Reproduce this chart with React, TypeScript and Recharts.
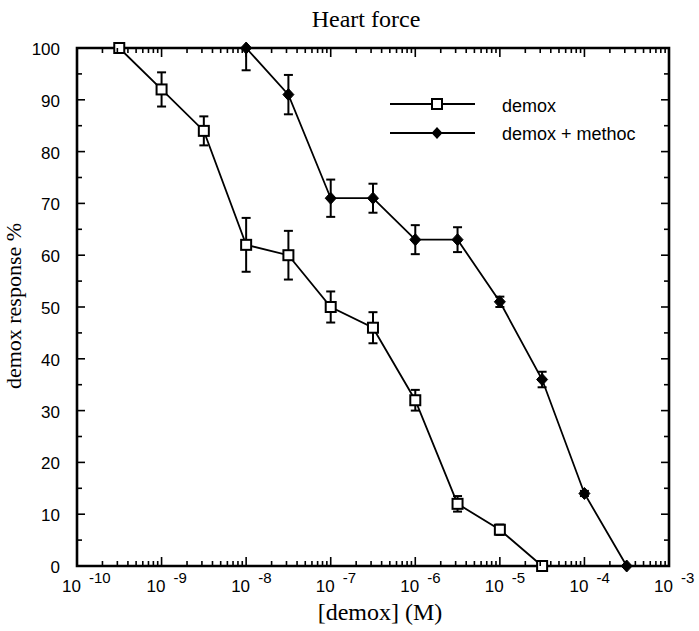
import { LineChart, Line, XAxis, YAxis, ErrorBar, Legend, ReferenceArea } from "recharts";

const SERIF = "'Liberation Serif', 'Times New Roman', serif";
const SANS = "'Liberation Sans', Arial, Helvetica, sans-serif";

// concentrations (M), half-decade steps
const DEMOX_CONC = [3.16e-10, 1e-9, 3.16e-9, 1e-8, 3.16e-8, 1e-7, 3.16e-7, 1e-6, 3.16e-6, 1e-5, 3.16e-5];
const DEMOX_RESP = [100, 92, 84, 62, 60, 50, 46, 32, 12, 7, 0];
const DEMOX_ERR = [0, 3.3, 2.8, 5.2, 4.7, 3, 3, 2, 1.5, 1, 0];

const METHOC_CONC = [1e-8, 3.16e-8, 1e-7, 3.16e-7, 1e-6, 3.16e-6, 1e-5, 3.16e-5, 1e-4, 3.16e-4];
const METHOC_RESP = [100, 91, 71, 71, 63, 63, 51, 36, 14, 0];
const METHOC_ERR_DOWN = [4.3, 3.8, 3.6, 2.8, 2.8, 2.4, 1, 1.5, 0.5, 0];
const METHOC_ERR_UP = [0, 3.8, 3.6, 2.8, 2.8, 2.4, 1, 1.5, 0.5, 0];

const DECADES = [1e-10, 1e-9, 1e-8, 1e-7, 1e-6, 1e-5, 1e-4, 1e-3];
const MINOR_STEPS = [2, 3, 4, 5, 6, 7, 8, 9];
const Y_TICKS = [0, 5, 10, 15, 20, 25, 30, 35, 40, 45, 50, 55, 60, 65, 70, 75, 80, 85, 90, 95, 100];

const X_TICKS = [
	...DECADES,
	...DECADES.slice(0, -1).flatMap(d => MINOR_STEPS.map(k => k * d)),
].sort((a, b) => a - b);

const demoxData = DEMOX_CONC.map((c, i) => ({
	conc: c,
	resp: DEMOX_RESP[i],
	err: DEMOX_ERR[i],
}));

const methocData = METHOC_CONC.map((c, i) => ({
	conc: c,
	resp: METHOC_RESP[i],
	err: [METHOC_ERR_DOWN[i], METHOC_ERR_UP[i]],
}));

const isMajor = (v: number) => DECADES.some(d => Math.abs(v - d) < d * 1e-6);

const BottomTick = (props: any) => {
	const { x, y, payload } = props;
	const v = payload.value;
	const major = isMajor(v);
	return (
		<g>
			<line x1={x} y1={y} x2={x} y2={y - (major ? 9 : 5)} stroke='#000' strokeWidth={1.6} />
			{major && (
				<text fontFamily={SANS} fill='#000'>
					<tspan x={x - 15} y={y + 26} fontSize={17}>
						10
					</tspan>
					<tspan x={x + 12} y={y + 17} fontSize={15}>
						{Math.round(Math.log10(v))}
					</tspan>
				</text>
			)}
		</g>
	);
};

const TopTick = (props: any) => {
	const { x, y, payload } = props;
	const major = isMajor(payload.value);
	return <line x1={x} y1={y} x2={x} y2={y + (major ? 9 : 5)} stroke='#000' strokeWidth={1.6} />;
};

const LeftTick = (props: any) => {
	const { x, y, payload } = props;
	const major = payload.value % 10 === 0;
	return (
		<g>
			<line x1={x} y1={y} x2={x + (major ? 8 : 5)} y2={y} stroke='#000' strokeWidth={1.6} />
			{major && (
				<text x={x - 17} y={y + 7} textAnchor='end' fontFamily={SANS} fontSize={17} fill='#000'>
					{payload.value}
				</text>
			)}
		</g>
	);
};

const RightTick = (props: any) => {
	const { x, y, payload } = props;
	const major = payload.value % 10 === 0;
	return <line x1={x} y1={y} x2={x - (major ? 8 : 5)} y2={y} stroke='#000' strokeWidth={1.6} />;
};

const SquareDot = (props: any) => {
	const { cx, cy, index } = props;
	return <rect key={`sq-${index}`} x={cx - 5} y={cy - 5} width={10} height={10} fill='#fff' stroke='#000' strokeWidth={2} />;
};

const DiamondDot = (props: any) => {
	const { cx, cy, index } = props;
	return (
		<polygon
			key={`di-${index}`}
			points={`${cx},${cy - 6} ${cx + 5.5},${cy} ${cx},${cy + 6} ${cx - 5.5},${cy}`}
			fill='#000'
			stroke='#000'
		/>
	);
};

const LegendBox = () => (
	<svg width={290} height={62}>
		<line x1={5} y1={19} x2={90} y2={19} stroke='#000' strokeWidth={1.8} />
		<rect x={47} y={14} width={10} height={10} fill='#fff' stroke='#000' strokeWidth={2} />
		<text x={117} y={27} fontFamily={SANS} fontSize={18} fill='#000'>
			demox
		</text>
		<line x1={5} y1={48} x2={90} y2={48} stroke='#000' strokeWidth={1.8} />
		<polygon points='52,42 57.5,48 52,54 46.5,48' fill='#000' />
		<text x={117} y={55} fontFamily={SANS} fontSize={18} fill='#000'>
			demox + methoc
		</text>
	</svg>
);

// title and y label, drawn as the left axis label
const AxisTexts = () => (
	<g>
		<text x={366} y={27} textAnchor='middle' fontFamily={SERIF} fontSize={24} fill='#000'>
			Heart force
		</text>
		<text
			x={21}
			y={306}
			transform='rotate(-90, 21, 306)'
			textAnchor='middle'
			fontFamily={SERIF}
			fontSize={22}
			fill='#000'>
			demox response %
		</text>
	</g>
);

export default function App() {
	return (
		<div style={{ position: "absolute", left: 0, top: 0, background: "#fff" }}>
			<LineChart width={699} height={631} margin={{ top: 47, right: 29, bottom: 0, left: 0 }}>
				<XAxis
					xAxisId='x'
					dataKey='conc'
					type='number'
					scale='log'
					domain={[1e-10, 1e-3]}
					ticks={X_TICKS}
					interval={0}
					height={65}
					tickSize={0}
					tickMargin={0}
					tickLine={false}
					axisLine={false}
					tick={<BottomTick />}
					label={{
						content: () => (
							<text x={380} y={620} textAnchor='middle' fontFamily={SERIF} fontSize={24} fill='#000'>
								[demox] (M)
							</text>
						),
					}}
				/>
				<XAxis
					xAxisId='top'
					dataKey='conc'
					orientation='top'
					type='number'
					scale='log'
					domain={[1e-10, 1e-3]}
					allowDataOverflow
					ticks={X_TICKS}
					interval={0}
					height={1}
					tickSize={0}
					tickMargin={0}
					tickLine={false}
					axisLine={false}
					tick={<TopTick />}
				/>
				<YAxis
					yAxisId='y'
					type='number'
					domain={[0, 100]}
					ticks={Y_TICKS}
					interval={0}
					width={77}
					tickSize={0}
					tickMargin={0}
					tickLine={false}
					axisLine={false}
					tick={<LeftTick />}
					label={{ content: () => <AxisTexts /> }}
				/>
				<YAxis
					yAxisId='r'
					orientation='right'
					type='number'
					domain={[0, 100]}
					allowDataOverflow
					ticks={Y_TICKS}
					interval={0}
					width={1}
					tickSize={0}
					tickMargin={0}
					tickLine={false}
					axisLine={false}
					tick={<RightTick />}
				/>
				<ReferenceArea
					xAxisId='x'
					yAxisId='y'
					x1={1e-10}
					x2={1e-3}
					y1={0}
					y2={100}
					ifOverflow='visible'
					fill='none'
					fillOpacity={0}
					stroke='#000'
					strokeWidth={2.6}
					strokeOpacity={1}
				/>
				<Legend
					layout='vertical'
					verticalAlign='middle'
					align='center'
					content={() => <LegendBox />}
					wrapperStyle={{ left: 385, top: 85, width: 290 }}
				/>
				{/* invisible series so the top and right tick axes get a scale */}
				<Line
					xAxisId='top'
					yAxisId='r'
					data={demoxData}
					dataKey='resp'
					stroke='none'
					dot={false}
					activeDot={false}
					legendType='none'
					isAnimationActive={false}
				/>
				<Line
					xAxisId='x'
					yAxisId='y'
					data={demoxData}
					dataKey='resp'
					name='demox'
					type='linear'
					stroke='#000'
					strokeWidth={1.8}
					dot={SquareDot}
					isAnimationActive={false}>
					<ErrorBar dataKey='err' direction='y' width={4.5} stroke='#000' strokeWidth={2} />
				</Line>
				<Line
					xAxisId='x'
					yAxisId='y'
					data={methocData}
					dataKey='resp'
					name='demox + methoc'
					type='linear'
					stroke='#000'
					strokeWidth={1.8}
					dot={DiamondDot}
					isAnimationActive={false}>
					<ErrorBar dataKey='err' direction='y' width={4.5} stroke='#000' strokeWidth={2} />
				</Line>
			</LineChart>
		</div>
	);
}
